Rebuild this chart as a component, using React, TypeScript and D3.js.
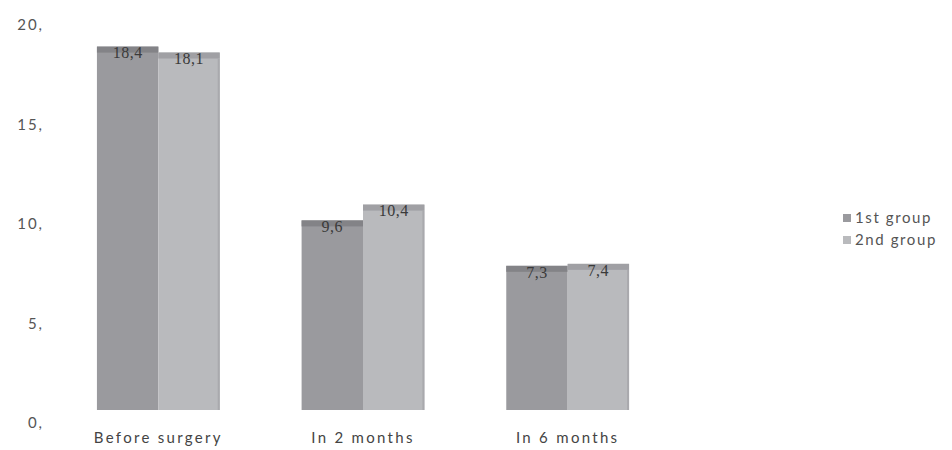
import React from 'react';
import * as d3 from 'd3';

const categories = ['Before surgery', 'In 2 months', 'In 6 months'];
const seriesNames = ['1st group', '2nd group'];
const group1 = [18.4, 9.6, 7.3];
const group2 = [18.1, 10.4, 7.4];
const labels1 = ['18,4', '9,6', '7,3'];
const labels2 = ['18,1', '10,4', '7,4'];
const yTicks = [0, 5, 10, 15, 20];

const fills = ['#9a9a9e', '#b9babd'];
const caps = ['#838387', '#a0a0a4'];

const W = 952;
const H = 450;

const App: React.FC = () => {
  const x = d3.scaleBand<string>()
    .domain(categories)
    .range([56, 670])
    .paddingInner(0.4)
    .paddingOuter(0.2);

  const xs = d3.scaleBand<string>()
    .domain(seriesNames)
    .range([0, x.bandwidth()]);

  const y = d3.scaleLinear().domain([0, 20]).range([410, 15]);
  // axis labels sit on the 3D back wall, slightly lower
  const yLab = d3.scaleLinear().domain([0, 20]).range([423, 25]);

  const values = [group1, group2];
  const valueLabels = [labels1, labels2];

  const sans = 'Lato, "Open Sans", sans-serif';

  return (
    <svg width={W} height={H} style={{ position: 'absolute', left: 0, top: 0, background: '#fff' }}>
      <g fill="#555" fontFamily={sans} fontSize={15} letterSpacing={2}>
        {yTicks.map(t => (
          <text key={t} x={44} y={yLab(t)} dy="0.35em" textAnchor="end">{`${t},`}</text>
        ))}
      </g>

      {categories.map((c, i) => (
        <g key={c}>
          {seriesNames.map((s, k) => {
            const v = values[k][i];
            const bx = x(c)! + xs(s)!;
            const bw = xs.bandwidth();
            const top = y(v);
            return (
              <g key={s}>
                <rect x={bx} y={top} width={bw} height={y(0) - top} fill={fills[k]} />
                <rect x={bx} y={top} width={bw} height={6} fill={caps[k]} />
                {k === 1 && (
                  <rect x={bx + bw - 2} y={top + 6} width={2} height={y(0) - top - 6} fill="#a9a9ad" />
                )}
                <text
                  x={bx + bw / 2}
                  y={top + 7}
                  dy="0.3em"
                  textAnchor="middle"
                  fontFamily='"Liberation Serif", serif'
                  fontSize={16}
                  letterSpacing={0.5}
                  fill="#3a3a3a"
                >
                  {valueLabels[k][i]}
                </text>
              </g>
            );
          })}
          <text
            x={x(c)! + x.bandwidth() / 2}
            y={438}
            dy="0.35em"
            textAnchor="middle"
            fontFamily={sans}
            fontSize={15}
            letterSpacing={2.3}
            fill="#444"
          >
            {c}
          </text>
        </g>
      ))}

      <g fontFamily={sans} fontSize={15} letterSpacing={1.6} fill="#555">
        {seriesNames.map((s, k) => (
          <g key={s} transform={`translate(843,${218 + k * 22})`}>
            <rect x={0} y={-4} width={8} height={8} fill={fills[k]} />
            <text x={12} y={0} dy="0.35em">{s}</text>
          </g>
        ))}
      </g>
    </svg>
  );
};

export default App;
